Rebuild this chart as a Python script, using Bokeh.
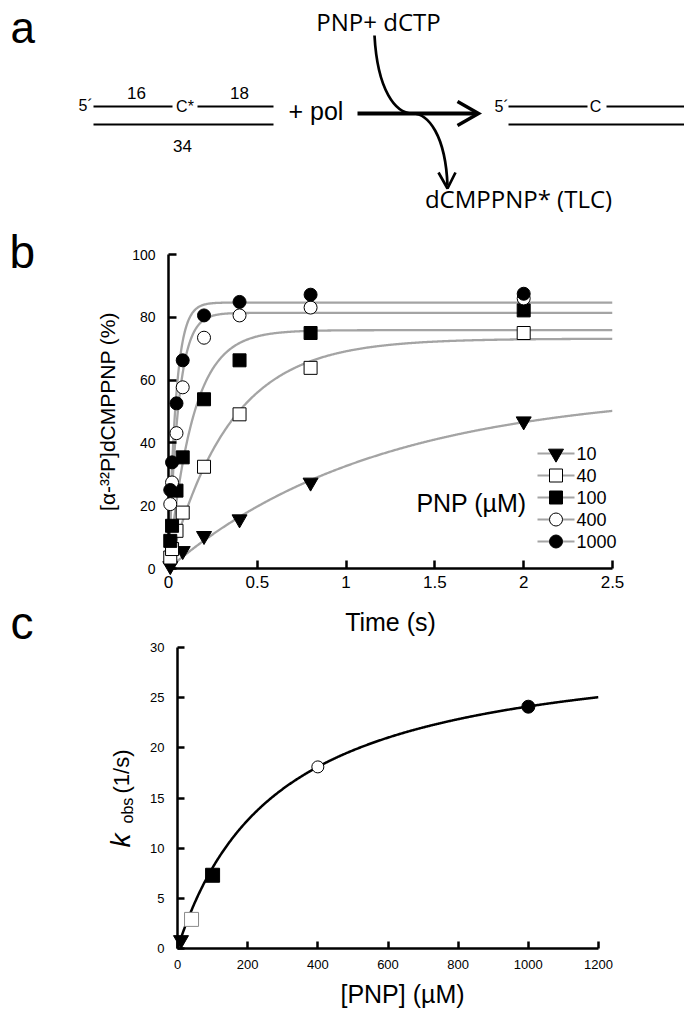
import numpy as np
from bokeh.plotting import figure
from bokeh.layouts import column
from bokeh.models import Range1d, FixedTicker, NumeralTickFormatter, Plot
from bokeh.core.properties import value
from bokeh.embed import file_html
from bokeh.resources import INLINE

SANS = "Liberation Sans"
HUMAN = "Open Sans"
GRAY = "#a4a4a4"

# ---------------- data: panel b (product vs time) ----------------
pnp_labels = ["10", "40", "100", "400", "1000"]
time_10 = [0.01, 0.08, 0.2, 0.4, 0.8, 2.0]
prod_10 = [0.8, 5.6, 10.4, 15.7, 27.4, 46.9]
time_all = [0.01, 0.02, 0.045, 0.08, 0.2, 0.4, 0.8, 2.0]
prod_40 = [3.5, 6.2, 12.0, 17.8, 32.4, 49.1, 63.9, 75.0]
prod_100 = [8.8, 13.6, 24.8, 35.4, 53.9, 66.3, 75.0, 82.2]
prod_400 = [20.5, 27.4, 43.1, 57.7, 73.5, 80.6, 83.1, 86.0]
prod_1000 = [25.0, 33.8, 52.6, 66.3, 80.6, 84.9, 87.2, 87.5]
# single-exponential fit parameters
amplitude = [57.0, 73.2, 75.9, 81.4, 84.7]
kobs = [0.85, 2.9, 7.3, 18.1, 24.1]

# ---------------- data: panel c (kobs vs [PNP]) ----------------
pnp_uM = [10, 40, 100, 400, 1000]
kpol = 31.0
kd_uM = 285.0

b_xticks = [0, 0.5, 1, 1.5, 2, 2.5]
b_yticks = [0, 20, 40, 60, 80, 100]
c_xticks = [0, 200, 400, 600, 800, 1000, 1200]
c_yticks = [0, 5, 10, 15, 20, 25, 30]

series_t = [time_10, time_all, time_all, time_all, time_all]
series_y = [prod_10, prod_40, prod_100, prod_400, prod_1000]
markers = ["inverted_triangle", "square", "square", "circle", "circle"]
fills = ["black", "white", "black", "white", "black"]
msize_b = [15, 13, 13, 13, 13]
msize_c = [15, 14, 14, 12, 13]
c_line = ["black", "#8a8a8a", "black", "black", "black"]

HAS_FA = "frame_align" in Plot.properties()
FA = {"frame_align": False} if HAS_FA else {}

FIG_W = 684
B_L, B_R = 168, 612            # panel b frame (page px)
C_L, C_R = 177, 598            # panel c x = 0 and x = 1200 (page px)
if HAS_FA:
    C_FL, C_FR = C_L, C_R
else:
    C_FL, C_FR = B_L, B_R      # frames get aligned: share panel b frame


def style_axes(p, xfs, yfs, xst, yst, tick_in):
    for ax, fs, st in ((p.xaxis[0], xfs, xst), (p.yaxis[0], yfs, yst)):
        ax.axis_line_width = 2.5
        ax.axis_line_color = "black"
        ax.major_tick_line_width = 2.5
        ax.major_tick_line_color = "black"
        ax.major_tick_in = tick_in
        ax.major_tick_out = 0
        ax.minor_tick_line_color = None
        ax.major_label_text_font = SANS
        ax.major_label_text_font_size = fs
        ax.major_label_text_color = "black"
        ax.major_label_standoff = st
        ax.axis_label_text_font = SANS
        ax.axis_label_text_font_style = "normal"
        ax.axis_label_text_color = "black"


def add_text(p, x, y, t, size, font=SANS, align="left", baseline="middle",
             angle=0.0, style="normal"):
    p.text([x], [y], text=[t], text_font=value(font), text_font_size=size,
           text_align=align, text_baseline=baseline, text_color="black",
           angle=angle, text_font_style=style, level="overlay")


# ======================= panel a : scheme =======================
A_H = 223
pa = figure(width=FIG_W, height=A_H, x_range=Range1d(B_L, B_R),
            y_range=Range1d(A_H, 0), x_axis_location=None, y_axis_location=None,
            min_border_left=B_L, min_border_right=FIG_W - B_R,
            min_border_top=0, min_border_bottom=0,
            outline_line_color=None, toolbar_location=None, output_backend="svg", **FA)
pa.xgrid.visible = False
pa.ygrid.visible = False

strand_x0 = [93, 197, 93, 508, 606, 508]
strand_x1 = [172, 273, 273, 587, 688, 688]
strand_y = [106, 106, 124, 106, 106, 124]
pa.segment(strand_x0, strand_y, strand_x1, strand_y, line_color="black", line_width=2,
           level="overlay")
pa.segment([357], [113], [476], [113], line_color="black", line_width=4, level="overlay")
pa.multi_line([[457, 478, 457]], [[101, 113, 125]], line_color="black", line_width=3.5,
              line_join="miter", level="overlay")
pa.bezier(x0=[374], y0=[35], x1=[412], y1=[113], cx0=[377], cy0=[90], cx1=[395], cy1=[113],
          line_color="black", line_width=2.7, level="overlay")
pa.bezier(x0=[412], y0=[113], x1=[447], y1=[185], cx0=[428], cy0=[113], cx1=[445], cy1=[135],
          line_color="black", line_width=2.7, level="overlay")
pa.multi_line([[438, 447, 455]], [[172, 188, 172]], line_color="black", line_width=2.7,
              level="overlay")

add_text(pa, 10, 26.5, "a", "44px")
add_text(pa, 78, 104.5, "5´", "16px")
add_text(pa, 136, 92.4, "16", "17px", align="center")
add_text(pa, 239, 92.4, "18", "17px", align="center")
add_text(pa, 184.5, 106.2, "C*", "16px", align="center")
add_text(pa, 182, 145.8, "34", "17px", align="center")
add_text(pa, 288, 110.0, "+ pol", "25px")
add_text(pa, 378, 21.0, "PNP+ dCTP", "24px", font=HUMAN, align="center")
add_text(pa, 518, 197.5, "dCMPPNP* (TLC)", "24px", font=HUMAN, align="center")
add_text(pa, 494, 105.5, "5´", "16px")
add_text(pa, 595, 106.2, "C", "16px", align="center")

# ======================= panel b =======================
B_TOP, B_H = 223, 373
BF_T, BF_B = 254, 568           # frame top / bottom (page px)
pb = figure(width=FIG_W, height=B_H, x_range=Range1d(0, 2.5), y_range=Range1d(0, 100),
            min_border_left=B_L, min_border_right=FIG_W - B_R,
            min_border_top=BF_T - B_TOP, min_border_bottom=B_TOP + B_H - BF_B,
            outline_line_color=None, toolbar_location=None, output_backend="svg", **FA)
pb.xgrid.visible = False
pb.ygrid.visible = False
style_axes(pb, "17px", "14px", 7, 13, 8)
pb.xaxis.ticker = FixedTicker(ticks=b_xticks)
pb.yaxis.ticker = FixedTicker(ticks=b_yticks)
pb.xaxis.formatter = NumeralTickFormatter(format="0.[0]")
pb.yaxis.axis_label = "[α-³²P]dCMPPNP (%)"
pb.yaxis.axis_label_text_font_size = "21px"
pb.yaxis.axis_label_standoff = 10


def bx(px):
    return (px - B_L) / (B_R - B_L) * 2.5


def by(py):
    return (BF_B - py) / (BF_B - BF_T) * 100


t_fit = np.linspace(0, 2.5, 600)
for A, k in zip(amplitude, kobs):
    pb.line(t_fit, A * (1 - np.exp(-k * t_fit)), line_color=GRAY, line_width=2.3)

for tt, yy, m, f, s in zip(series_t, series_y, markers, fills, msize_b):
    pb.scatter(tt, yy, marker=m, size=s, fill_color=f, line_color="black", line_width=1,
               level="overlay")

leg_rows = [453, 475, 497, 519, 541]
for row, lab, m, f, s in zip(leg_rows, pnp_labels, markers, fills, msize_b):
    pb.segment([bx(537)], [by(row)], [bx(574)], [by(row)], line_color=GRAY, line_width=2)
    pb.scatter([bx(555.5)], [by(row)], marker=m, size=s, fill_color=f, line_color="black",
               line_width=1)
    add_text(pb, bx(576), by(row), lab, "18px")

add_text(pb, bx(471), by(502), "PNP (µM)", "25px", align="center")
add_text(pb, bx(9), by(251), "b", "46px")

# ======================= panel c =======================
C_TOP, C_H = 596, 420
CF_T, CF_B = 647, 948           # frame top / bottom (page px)


def cx(px):
    return (px - C_L) / (C_R - C_L) * 1200


def cy(py):
    return (CF_B - py) / (CF_B - CF_T) * 30


pc = figure(width=FIG_W, height=C_H, x_range=Range1d(cx(C_FL), cx(C_FR)),
            y_range=Range1d(0, 30),
            min_border_left=C_FL, min_border_right=FIG_W - C_FR,
            min_border_top=CF_T - C_TOP, min_border_bottom=C_TOP + C_H - CF_B,
            outline_line_color=None, toolbar_location=None, output_backend="svg", **FA)
pc.xgrid.visible = False
pc.ygrid.visible = False
style_axes(pc, "13px", "13px", 11, 13, 7)
pc.xaxis.ticker = FixedTicker(ticks=c_xticks)
pc.yaxis.ticker = FixedTicker(ticks=c_yticks)
pc.xaxis.bounds = (0, 1200)
if not HAS_FA:
    pc.yaxis.fixed_location = 0
    pc.yaxis.major_label_text_alpha = 0
    for v in c_yticks:
        add_text(pc, cx(C_L - 13), v, str(v), "13px", align="right")

s_fit = np.linspace(0, 1200, 600)
pc.line(s_fit, kpol * s_fit / (kd_uM + s_fit), line_color="black", line_width=2.5)
for xv, yv, m, f, s, lc in zip(pnp_uM, kobs, markers, fills, msize_c, c_line):
    pc.scatter([xv], [yv], marker=m, size=s, fill_color=f, line_color=lc, line_width=1,
               level="overlay")

# texts that sit between panels b and c, and the axis titles of c
add_text(pc, cx((B_L + B_R) / 2), cy(621), "Time (s)", "25px", align="center")
add_text(pc, cx(10), cy(622), "c", "46px")
add_text(pc, cx(402), cy(993), "[PNP] (µM)", "25px", align="center")
add_text(pc, cx(120.3), cy(847), "k", "28px", angle=np.pi / 2, style="italic")
add_text(pc, cx(126.5), cy(823), "obs", "16px", angle=np.pi / 2)
add_text(pc, cx(120.5), cy(793), "(1/s)", "22px", angle=np.pi / 2)

layout = column(pa, pb, pc)
open("out.html", "w").write(file_html(layout, INLINE))
